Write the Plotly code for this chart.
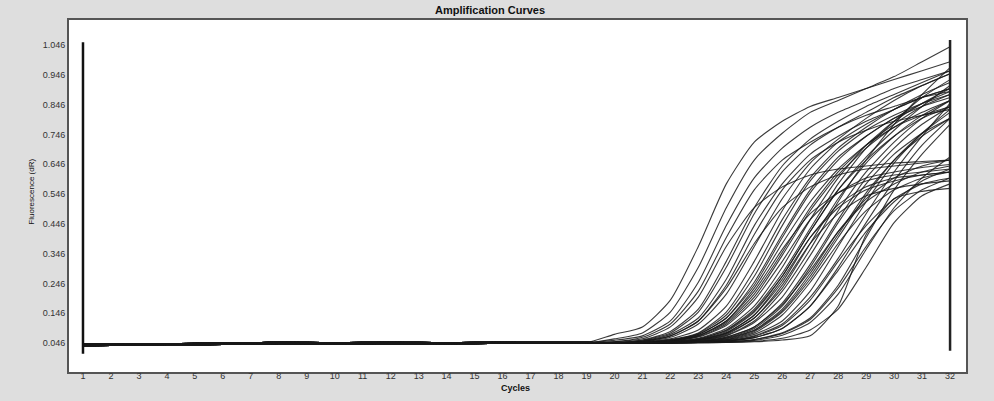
import plotly.graph_objects as go

# ---- data ----
early_cycles = list(range(1, 20))          # cycles 1..19 (baseline phase)
late_cycles = list(range(20, 33))          # cycles 20..32

baseline_a = [0.040, 0.041, 0.042, 0.041, 0.042, 0.042, 0.043, 0.046, 0.045, 0.044,
              0.045, 0.047, 0.046, 0.045, 0.046, 0.047, 0.046, 0.046, 0.047]
baseline_b = [0.036, 0.038, 0.039, 0.040, 0.040, 0.041, 0.042, 0.044, 0.043, 0.042,
              0.043, 0.044, 0.044, 0.043, 0.044, 0.045, 0.045, 0.045, 0.046]
baseline_c = [0.043, 0.043, 0.044, 0.044, 0.045, 0.046, 0.047, 0.049, 0.048, 0.047,
              0.048, 0.049, 0.048, 0.047, 0.048, 0.049, 0.048, 0.048, 0.048]
baselines = [baseline_a, baseline_b, baseline_c]

late_values = [
    [0.075, 0.10, 0.19, 0.37, 0.58, 0.72, 0.79, 0.84, 0.87, 0.90, 0.93, 0.96, 0.99],
    [0.06, 0.08, 0.15, 0.30, 0.50, 0.66, 0.75, 0.82, 0.86, 0.90, 0.94, 0.99, 1.04],
    [0.055, 0.07, 0.12, 0.25, 0.44, 0.60, 0.70, 0.77, 0.82, 0.86, 0.90, 0.93, 0.96],
    [0.05, 0.065, 0.11, 0.22, 0.40, 0.56, 0.66, 0.72, 0.77, 0.81, 0.84, 0.87, 0.89],
    [0.05, 0.06, 0.10, 0.20, 0.37, 0.50, 0.57, 0.61, 0.63, 0.64, 0.65, 0.655, 0.66],
    [0.048, 0.055, 0.08, 0.15, 0.30, 0.48, 0.62, 0.71, 0.77, 0.82, 0.87, 0.91, 0.95],
    [0.047, 0.053, 0.075, 0.13, 0.26, 0.44, 0.58, 0.68, 0.74, 0.79, 0.83, 0.87, 0.90],
    [0.047, 0.052, 0.07, 0.12, 0.24, 0.41, 0.56, 0.66, 0.72, 0.76, 0.79, 0.81, 0.83],
    [0.047, 0.052, 0.07, 0.12, 0.23, 0.38, 0.50, 0.57, 0.61, 0.63, 0.64, 0.65, 0.66],
    [0.046, 0.05, 0.065, 0.11, 0.21, 0.37, 0.53, 0.65, 0.73, 0.80, 0.86, 0.91, 0.95],
    [0.046, 0.049, 0.058, 0.08, 0.15, 0.29, 0.46, 0.60, 0.70, 0.77, 0.83, 0.88, 0.92],
    [0.046, 0.048, 0.056, 0.078, 0.14, 0.27, 0.44, 0.59, 0.69, 0.76, 0.81, 0.85, 0.88],
    [0.046, 0.048, 0.055, 0.075, 0.13, 0.25, 0.41, 0.56, 0.67, 0.74, 0.80, 0.85, 0.89],
    [0.046, 0.048, 0.055, 0.072, 0.12, 0.23, 0.38, 0.52, 0.63, 0.71, 0.77, 0.81, 0.84],
    [0.046, 0.048, 0.054, 0.07, 0.12, 0.22, 0.36, 0.48, 0.55, 0.59, 0.61, 0.62, 0.63],
    [0.046, 0.047, 0.053, 0.07, 0.115, 0.21, 0.35, 0.50, 0.62, 0.71, 0.78, 0.84, 0.88],
    [0.046, 0.047, 0.052, 0.068, 0.11, 0.20, 0.34, 0.49, 0.61, 0.70, 0.77, 0.82, 0.86],
    [0.046, 0.047, 0.052, 0.066, 0.105, 0.19, 0.32, 0.46, 0.55, 0.60, 0.62, 0.635, 0.645],
    [0.046, 0.047, 0.05, 0.06, 0.09, 0.16, 0.28, 0.43, 0.58, 0.70, 0.79, 0.87, 0.93],
    [0.046, 0.047, 0.05, 0.058, 0.085, 0.15, 0.27, 0.42, 0.56, 0.66, 0.74, 0.80, 0.84],
    [0.046, 0.047, 0.05, 0.057, 0.08, 0.14, 0.25, 0.40, 0.51, 0.57, 0.60, 0.61, 0.62],
    [0.046, 0.047, 0.049, 0.056, 0.078, 0.13, 0.24, 0.38, 0.48, 0.54, 0.565, 0.58, 0.59],
    [0.046, 0.047, 0.049, 0.055, 0.075, 0.13, 0.23, 0.38, 0.53, 0.65, 0.74, 0.81, 0.86],
    [0.046, 0.046, 0.049, 0.055, 0.072, 0.12, 0.22, 0.36, 0.52, 0.66, 0.78, 0.88, 0.97],
    [0.046, 0.046, 0.048, 0.052, 0.065, 0.10, 0.18, 0.31, 0.46, 0.60, 0.70, 0.78, 0.84],
    [0.046, 0.046, 0.048, 0.052, 0.063, 0.095, 0.17, 0.30, 0.45, 0.58, 0.68, 0.75, 0.80],
    [0.046, 0.046, 0.048, 0.051, 0.062, 0.09, 0.16, 0.28, 0.42, 0.53, 0.60, 0.64, 0.66],
    [0.046, 0.046, 0.048, 0.051, 0.06, 0.088, 0.155, 0.27, 0.41, 0.55, 0.66, 0.74, 0.80],
    [0.046, 0.046, 0.047, 0.05, 0.058, 0.085, 0.15, 0.26, 0.40, 0.54, 0.66, 0.75, 0.82],
    [0.046, 0.046, 0.047, 0.05, 0.057, 0.08, 0.14, 0.25, 0.38, 0.49, 0.56, 0.60, 0.62],
    [0.046, 0.046, 0.047, 0.049, 0.054, 0.07, 0.11, 0.20, 0.33, 0.48, 0.62, 0.74, 0.85],
    [0.046, 0.046, 0.047, 0.049, 0.053, 0.068, 0.105, 0.19, 0.32, 0.44, 0.53, 0.58, 0.60],
    [0.046, 0.046, 0.047, 0.049, 0.053, 0.064, 0.095, 0.17, 0.29, 0.42, 0.52, 0.59, 0.63],
    [0.046, 0.046, 0.046, 0.048, 0.052, 0.064, 0.095, 0.17, 0.30, 0.45, 0.59, 0.71, 0.80],
    [0.046, 0.046, 0.046, 0.048, 0.05, 0.058, 0.08, 0.13, 0.24, 0.40, 0.56, 0.68, 0.78],
    [0.046, 0.046, 0.046, 0.048, 0.05, 0.057, 0.078, 0.125, 0.23, 0.37, 0.49, 0.56, 0.60],
    [0.046, 0.046, 0.046, 0.047, 0.049, 0.055, 0.072, 0.115, 0.21, 0.36, 0.50, 0.60, 0.67],
    [0.046, 0.046, 0.046, 0.047, 0.048, 0.052, 0.062, 0.09, 0.16, 0.30, 0.45, 0.54, 0.58],
    [0.046, 0.046, 0.046, 0.047, 0.048, 0.05, 0.056, 0.07, 0.17, 0.41, 0.53, 0.555, 0.565],
    [0.046, 0.048, 0.055, 0.075, 0.13, 0.24, 0.40, 0.55, 0.66, 0.74, 0.80, 0.84, 0.87],
    [0.046, 0.047, 0.051, 0.062, 0.095, 0.17, 0.30, 0.46, 0.60, 0.71, 0.79, 0.85, 0.90],
    [0.046, 0.047, 0.05, 0.058, 0.08, 0.14, 0.26, 0.40, 0.50, 0.56, 0.59, 0.61, 0.62],
    [0.046, 0.047, 0.049, 0.054, 0.07, 0.115, 0.20, 0.34, 0.49, 0.62, 0.72, 0.80, 0.86],
    [0.047, 0.05, 0.06, 0.09, 0.17, 0.32, 0.49, 0.63, 0.72, 0.78, 0.83, 0.87, 0.90],
    [0.046, 0.046, 0.048, 0.052, 0.066, 0.10, 0.175, 0.29, 0.42, 0.52, 0.58, 0.62, 0.64],
    [0.046, 0.046, 0.047, 0.05, 0.056, 0.075, 0.12, 0.22, 0.37, 0.52, 0.65, 0.75, 0.83],
    [0.048, 0.056, 0.085, 0.16, 0.32, 0.50, 0.64, 0.73, 0.79, 0.84, 0.88, 0.92, 0.96],
    [0.046, 0.047, 0.05, 0.06, 0.088, 0.155, 0.27, 0.42, 0.56, 0.67, 0.76, 0.84, 0.91],
]

y_tick_values = [0.046, 0.146, 0.246, 0.346, 0.446, 0.546, 0.646, 0.746, 0.846, 0.946, 1.046]
y_tick_labels = ["0.046", "0.146", "0.246", "0.346", "0.446", "0.546",
                 "0.646", "0.746", "0.846", "0.946", "1.046"]
x_tick_values = list(range(1, 33))
x_tick_labels = [str(v) for v in x_tick_values]

title_text = "Amplification Curves"
x_title = "Cycles"
y_title = "Fluorescence (dR)"

# ---- figure ----
fig = go.Figure()
all_cycles = early_cycles + late_cycles
for i, vals in enumerate(late_values):
    base = baselines[i % 3]
    fig.add_trace(go.Scatter(
        x=all_cycles, y=base + vals, mode="lines",
        line=dict(color="rgba(25,25,25,0.85)", width=1.1, shape="spline", smoothing=0.6),
        showlegend=False, hoverinfo="skip"))

# vertical boundary bars at first and last cycle
fig.add_shape(type="line", xref="x", yref="y", x0=1, x1=1, y0=0.01, y1=1.055,
              line=dict(color="#111", width=2.5))
fig.add_shape(type="line", xref="x", yref="y", x0=32, x1=32, y0=0.02, y1=1.063,
              line=dict(color="#222", width=2.5))

tick_font = dict(family="Liberation Sans, Arial, sans-serif", size=9, color="#333")
fig.update_xaxes(range=[0.5, 32.57], tickvals=x_tick_values, ticktext=x_tick_labels,
                 showgrid=False, zeroline=False, showline=True, mirror=True,
                 linecolor="#555", linewidth=2, ticks="", tickfont=tick_font,
                 ticklabelstandoff=-6)
fig.update_yaxes(range=[-0.0513, 1.13], tickvals=y_tick_values, ticktext=y_tick_labels,
                 showgrid=False, zeroline=False, showline=True, mirror=True,
                 linecolor="#555", linewidth=2, ticks="", tickfont=tick_font)

fig.add_annotation(text="<b>" + title_text + "</b>", xref="paper", yref="paper",
                   x=0.469, y=1.028, yanchor="middle", showarrow=False,
                   font=dict(family="Liberation Sans, Arial, sans-serif", size=11, color="#111"))
fig.add_annotation(text="<b>" + x_title + "</b>", xref="paper", yref="paper",
                   x=0.498, y=-0.045, showarrow=False, yanchor="middle",
                   font=dict(family="Liberation Sans, Arial, sans-serif", size=9, color="#111"))
fig.add_annotation(text=y_title, xref="paper", yref="paper", textangle=-90,
                   x=-0.049, y=0.511, showarrow=False,
                   font=dict(family="Liberation Sans, Arial, sans-serif", size=8, color="#111"))

fig.update_layout(width=994, height=401,
                  margin=dict(l=69, r=28, t=20, b=29),
                  paper_bgcolor="#dedede", plot_bgcolor="white")

fig.write_html("out.html", config={"displayModeBar": False},
               post_script="document.body.style.margin='0';document.body.style.padding='0';")
